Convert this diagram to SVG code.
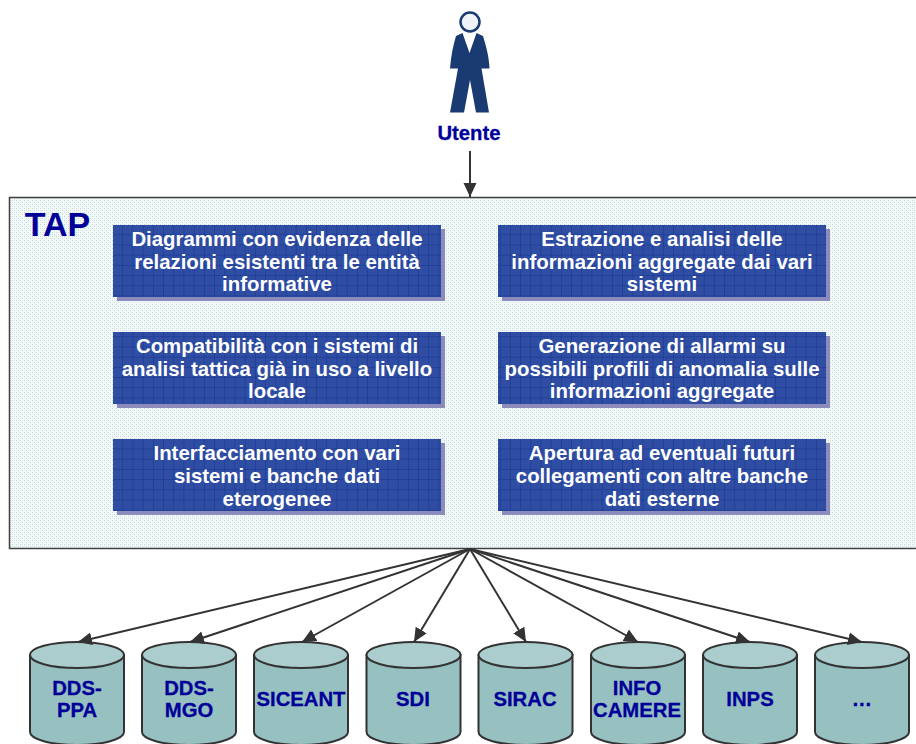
<svg xmlns="http://www.w3.org/2000/svg" width="916" height="744" viewBox="0 0 916 744">
<style>
.n{font-family:"Liberation Sans",Arial,sans-serif;font-weight:700;fill:#000099;stroke:#000099;stroke-width:.3;text-anchor:middle;font-size:20.3px}
.w{font-family:"Liberation Sans",Arial,sans-serif;font-weight:700;fill:#fff;text-anchor:middle;font-size:20.4px}
.b{fill:url(#grid)}
.s{fill:#8c8cbc}
.c{stroke:#333;stroke-width:2;fill:none}
.body{fill:#97c0c0;stroke:#333;stroke-width:2}
.top{fill:#abcdcd;stroke:#333;stroke-width:2}
</style>
<defs>
<pattern id="dots" width="4" height="4" patternUnits="userSpaceOnUse">
<rect width="4" height="4" fill="#f4f9f9"/>
<rect x="0" y="0" width="1" height="1" fill="#c4dada"/>
<rect x="2" y="2" width="1" height="1" fill="#c4dada"/>
<rect x="2" y="0" width="1" height="1" fill="#dcebeb"/>
<rect x="0" y="2" width="1" height="1" fill="#dcebeb"/>
</pattern>
<pattern id="grid" x="113" y="225" width="10.2" height="10.2" patternUnits="userSpaceOnUse">
<rect width="10.2" height="10.2" fill="#2f4da3"/>
<path d="M10 0V10.2M0 10H10.2" stroke="#1a3a96" stroke-width="1" fill="none"/>
</pattern>
<marker id="a" markerUnits="userSpaceOnUse" markerWidth="16" markerHeight="16" refX="14" refY="7" orient="auto">
<path d="M0 0.500L14 7L0 13.500Z" fill="#333"/>
</marker>
<g id="cyl">
<path class="body" d="M-47 0V77A47 13 0 0 0 47 77V0Z"/>
<ellipse class="top" cx="0" cy="0" rx="47" ry="13"/>
</g>
</defs>
<rect width="916" height="744" fill="#fff"/>
<g id="tap">
<rect x="9.500" y="197.500" width="908" height="351" fill="url(#dots)" stroke="#404040" stroke-width="1.500"/>
<text x="57.500" y="236" font-family="Liberation Sans,Arial,sans-serif" font-weight="700" font-size="34" fill="#000099" text-anchor="middle">TAP</text>
</g>
<g id="utente">
<path d="M462.500 33L469.500 53L476.500 33L483 36C486 46 489 56 489.500 68.500H481.500L489 112.500H476L470 80L464 112.500H450L458 68.500H450C451 56 453 46 456 36Z" fill="#1a3a72"/>
<circle cx="470" cy="22" r="9.500" fill="#edf3f6" stroke="#1a3a72" stroke-width="2.500"/>
<text class="n" x="469" y="140">Utente</text>
</g>
<g id="f1"><rect class="s" x="117" y="229" width="328" height="72"/><rect class="b" x="113" y="225" width="328" height="72"/>
<text class="w" x="277" y="246">Diagrammi con evidenza delle</text><text class="w" x="277" y="269">relazioni esistenti tra le entità</text><text class="w" x="277" y="291">informative</text></g>
<g id="f2"><rect class="s" x="502" y="229" width="328" height="72"/><rect class="b" x="498" y="225" width="328" height="72"/>
<text class="w" x="662" y="246">Estrazione e analisi delle</text><text class="w" x="662" y="269">informazioni aggregate dai vari</text><text class="w" x="662" y="291">sistemi</text></g>
<g id="f3"><rect class="s" x="117" y="336" width="328" height="72"/><rect class="b" x="113" y="332" width="328" height="72"/>
<text class="w" x="277" y="353">Compatibilità con i sistemi di</text><text class="w" x="277" y="376">analisi tattica già in uso a livello</text><text class="w" x="277" y="398">locale</text></g>
<g id="f4"><rect class="s" x="502" y="336" width="328" height="72"/><rect class="b" x="498" y="332" width="328" height="72"/>
<text class="w" x="662" y="353">Generazione di allarmi su</text><text class="w" x="662" y="376">possibili profili di anomalia sulle</text><text class="w" x="662" y="398">informazioni aggregate</text></g>
<g id="f5"><rect class="s" x="117" y="443" width="328" height="72"/><rect class="b" x="113" y="439" width="328" height="72"/>
<text class="w" x="277" y="460">Interfacciamento con vari</text><text class="w" x="277" y="483">sistemi e banche dati</text><text class="w" x="277" y="506">eterogenee</text></g>
<g id="f6"><rect class="s" x="502" y="443" width="328" height="72"/><rect class="b" x="498" y="439" width="328" height="72"/>
<text class="w" x="662" y="460">Apertura ad eventuali futuri</text><text class="w" x="662" y="483">collegamenti con altre banche</text><text class="w" x="662" y="506">dati esterne</text></g>
<g id="db1"><use href="#cyl" x="77" y="655"/><text class="n" x="77" y="695">DDS-</text><text class="n" x="77" y="717">PPA</text></g>
<g id="db2"><use href="#cyl" x="189" y="655"/><text class="n" x="189" y="695">DDS-</text><text class="n" x="189" y="717">MGO</text></g>
<g id="db3"><use href="#cyl" x="301" y="655"/><text class="n" x="301" y="706">SICEANT</text></g>
<g id="db4"><use href="#cyl" x="413.500" y="655"/><text class="n" x="413" y="706">SDI</text></g>
<g id="db5"><use href="#cyl" x="525.500" y="655"/><text class="n" x="525" y="706">SIRAC</text></g>
<g id="db6"><use href="#cyl" x="638" y="655"/><text class="n" x="637" y="695">INFO</text><text class="n" x="637" y="717">CAMERE</text></g>
<g id="db7"><use href="#cyl" x="750" y="655"/><text class="n" x="750" y="706">INPS</text></g>
<g id="db8"><use href="#cyl" x="862" y="655"/><text class="n" x="862" y="706">…</text></g>
<g id="connectors" class="c">
<path d="M470 151V197" marker-end="url(#a)"/>
<path d="M470 549L78 642" marker-end="url(#a)"/>
<path d="M470 549L190 642" marker-end="url(#a)"/>
<path d="M470 549L302 642" marker-end="url(#a)"/>
<path d="M470 549L414 642" marker-end="url(#a)"/>
<path d="M470 549L526 642" marker-end="url(#a)"/>
<path d="M470 549L638 642" marker-end="url(#a)"/>
<path d="M470 549L750 642" marker-end="url(#a)"/>
<path d="M470 549L862 642" marker-end="url(#a)"/>
</g>
</svg>
